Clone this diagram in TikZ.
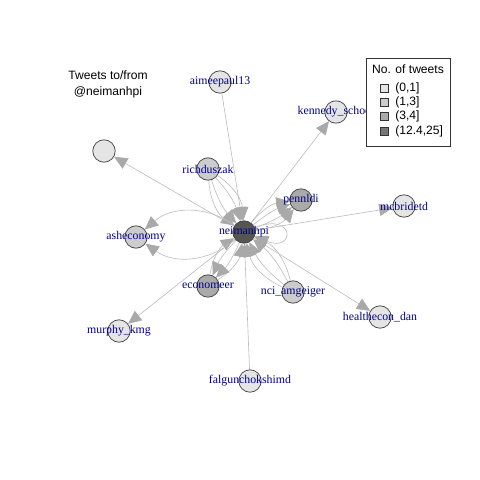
\documentclass[tikz,border=0pt]{standalone}
\usepackage{fontspec}
\setmainfont{Liberation Serif}
\newfontfamily\hvfont{Liberation Sans}
\usetikzlibrary{arrows.meta,backgrounds}
\definecolor{twA}{HTML}{E5E5E5}
\definecolor{twB}{HTML}{CCCCCC}
\definecolor{twC}{HTML}{AAAAAA}
\definecolor{twD}{HTML}{555555}
\definecolor{twkey}{HTML}{777777}
\definecolor{edgegray}{HTML}{BEBEBE}
\definecolor{headgray}{HTML}{A9A9A9}
\definecolor{labblue}{HTML}{00008B}
\tikzstyle{vtx}=[circle, draw=black!75, line width=0.5pt, minimum size=0.56cm, inner sep=0pt]
\tikzstyle{lab}=[text=labblue, font=\fontsize{8.4}{9}\selectfont, inner sep=0pt]
\tikzstyle{edge}=[draw=edgegray, line width=0.45pt, -{Triangle[length=9.5pt,width=8.5pt,color=headgray]}]
\tikzstyle{keybox}=[draw=black!80, fill=white, line width=0.5pt]
\tikzstyle{keysq}=[draw=black!80, line width=0.4pt, minimum size=0.19cm, inner sep=0pt]
\tikzstyle{keytxt}=[font=\hvfont\fontsize{8.6}{9}\selectfont, anchor=west, inner sep=0pt]

\begin{document}
\begin{tikzpicture}[x=0.025cm, y=-0.025cm]
	\useasboundingbox (0,0) rectangle (480,480);
	% vertices
	\node[vtx, fill=twD, label={[lab]center:neimanhpi}] (neiman) at (244,232) {};
	\node[vtx, fill=twA, label={[lab]center:aimeepaul13}] (aimee) at (220,82) {};
	\node[vtx, fill=twA, label={[lab]center:kennedy\_school}] (kennedy) at (336,112) {};
	\node[vtx, fill=twA] (anon) at (104,151) {};
	\node[vtx, fill=twB, label={[lab]center:richduszak}] (rich) at (208,169) {};
	\node[vtx, fill=twC, label={[lab]center:pennldi}] (penn) at (301,200) {};
	\node[vtx, fill=twA, label={[lab]center:mcbridetd}] (mcbride) at (404,206) {};
	\node[vtx, fill=twB, label={[lab]center:asheconomy}] (ashe) at (136,237) {};
	\node[vtx, fill=twC, label={[lab]center:economeer}] (econ) at (208,286) {};
	\node[vtx, fill=twB, label={[lab]center:nci\_amgeiger}] (nci) at (293,292) {};
	\node[vtx, fill=twA, label={[lab]center:murphy\_kmg}] (murphy) at (119,331) {};
	\node[vtx, fill=twA, label={[lab]center:healthecon\_dan}] (health) at (380,317) {};
	\node[vtx, fill=twA, label={[lab]center:falgunchokshimd}] (falgun) at (250,381) {};
	% edges
	\begin{scope}[on background layer]
		\draw[edge] (aimee) -- (neiman);
		\draw[edge] (neiman) -- (kennedy);
		\draw[edge] (neiman) -- (anon);
		\draw[edge] (neiman) -- (mcbride);
		\draw[edge] (neiman) -- (murphy);
		\draw[edge] (neiman) -- (health);
		\draw[edge] (falgun) -- (neiman);
		\foreach \b in {-26,-12,12,26}
			\draw[edge] (rich) to[bend left=\b] (neiman);
		\foreach \b in {-22,-9,9,22}
			\draw[edge] (neiman) to[bend left=\b] (penn);
		\foreach \b in {-26,-12,12,26}
			\draw[edge] (nci) to[bend left=\b] (neiman);
		\foreach \b in {-24,24}
			\draw[edge] (econ) to[bend left=\b] (neiman);
		\foreach \b in {-10,10}
			\draw[edge] (neiman) to[bend left=\b] (econ);
		\draw[edge] (neiman) to[bend right=38] (ashe);
		\draw[edge] (neiman) to[bend left=38] (ashe);
		\draw[edge] (neiman) to[out=22, in=-22, min distance=1.1cm] (neiman);
	\end{scope}
	% title
	\node[font=\hvfont\fontsize{8.6}{11.2}\selectfont, align=center] (title) at (108,84) {Tweets to/from\\@neimanhpi};
	% legend
	\draw[keybox] (366,58) rectangle (450,146);
	\node[font=\hvfont\fontsize{8.6}{9}\selectfont] (keyhead) at (408,69) {No. of tweets};
	\foreach \c/\t/\y in {twA/{(0,1]}/88, twB/{(1,3]}/102, twC/{(3,4]}/116, twkey/{(12.4,25]}/131} {
		\node[keysq, fill=\c] (sq\y) at (384,\y) {};
		\node[keytxt] (kt\y) at (395,\y) {\t};
	}
\end{tikzpicture}
\end{document}
